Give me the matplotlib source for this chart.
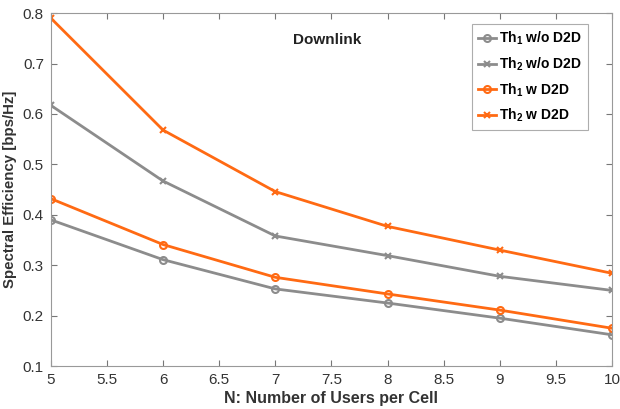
import matplotlib.pyplot as plt

plt.rcParams['font.family'] = ['Liberation Sans', 'DejaVu Sans']
plt.rcParams['mathtext.fontset'] = 'custom'
plt.rcParams['mathtext.rm'] = 'Liberation Sans:bold'
plt.rcParams['mathtext.it'] = 'Liberation Sans:bold'

N = [5, 6, 7, 8, 9, 10]
th1_wo = [0.390, 0.311, 0.253, 0.225, 0.195, 0.162]
th2_wo = [0.617, 0.467, 0.358, 0.319, 0.278, 0.250]
th1_w = [0.432, 0.341, 0.276, 0.243, 0.211, 0.175]
th2_w = [0.790, 0.568, 0.446, 0.377, 0.330, 0.284]

gray = '#8c8c8c'
orange = '#ff6a13'

fig = plt.figure(figsize=(6.2, 4.09), dpi=100)
ax = fig.add_axes([0.082, 0.105, 0.905, 0.863])

ax.plot(N, th1_wo, '-o', color=gray, lw=2, ms=5, mfc='none', mew=1.5, label='Th$_1$ w/o D2D')
ax.plot(N, th2_wo, '-x', color=gray, lw=2, ms=5, mew=1.5, label='Th$_2$ w/o D2D')
ax.plot(N, th1_w, '-o', color=orange, lw=2, ms=5, mfc='none', mew=1.5, label='Th$_1$ w D2D')
ax.plot(N, th2_w, '-x', color=orange, lw=2, ms=5, mew=1.5, label='Th$_2$ w D2D')

ax.set_xlim(5, 10)
ax.set_ylim(0.1, 0.8)
ax.set_xticks([5, 5.5, 6, 6.5, 7, 7.5, 8, 8.5, 9, 9.5, 10])
ax.set_xticklabels(['5', '5.5', '6', '6.5', '7', '7.5', '8', '8.5', '9', '9.5', '10'])
ax.set_yticks([0.1, 0.2, 0.3, 0.4, 0.5, 0.6, 0.7, 0.8])
ax.tick_params(direction='in', top=True, right=True, colors='#777777',
               labelcolor='#333333', labelsize=11, length=4, pad=5)
for s in ax.spines.values():
    s.set_color('#999999')

ax.set_xlabel('N: Number of Users per Cell', fontsize=11.5, fontweight='bold', color='#333333', labelpad=3)
ax.set_ylabel('Spectral Efficiency [bps/Hz]', fontsize=10.8, fontweight='bold', color='#333333', labelpad=4)
ax.text(0.492, 0.945, 'Downlink', transform=ax.transAxes, ha='center', va='top',
        fontsize=11, fontweight='bold', color='#222222')

leg = ax.legend(loc='upper right', bbox_to_anchor=(0.964, 0.98), fancybox=False,
                edgecolor='#999999', prop={'weight': 'bold', 'size': 10},
                handlelength=1.3, handletextpad=0.25, labelspacing=0.6, borderpad=0.4,
                borderaxespad=0.3)
leg.get_frame().set_linewidth(0.8)

fig.savefig('out.png', dpi=100)
